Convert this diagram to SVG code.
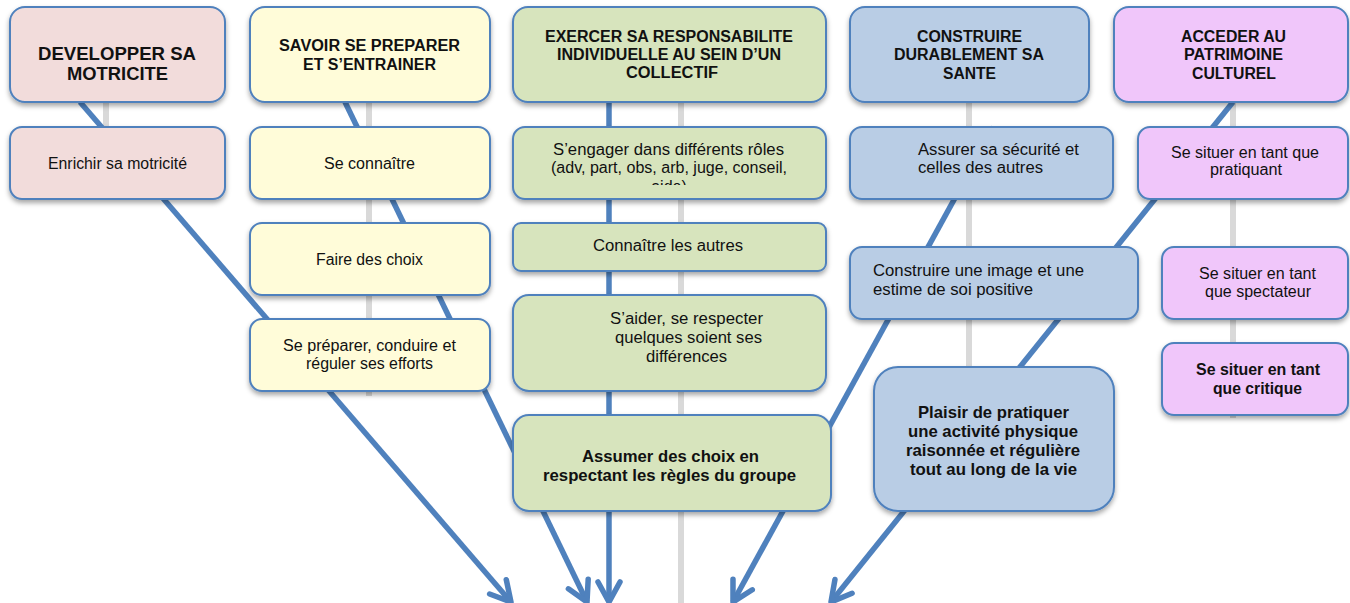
<svg xmlns="http://www.w3.org/2000/svg" width="1350" height="603" viewBox="0 0 1350 603">
<style>
  .grey{stroke:#d9d9d9;stroke-width:6;fill:none}
  .blue{stroke:#4f81bd;stroke-width:5.5;fill:none;marker-end:url(#arr)}
  .box{stroke:#4f81bd;stroke-width:2;filter:url(#sh)}
  .pink{fill:#f2dcdb}.yel{fill:#fffcd9}.grn{fill:#d7e4bd}.blu{fill:#b9cde5}.pur{fill:#f0c6fa}
  text{font-family:"Liberation Sans",Arial,sans-serif;fill:#111;text-anchor:middle}
  .h{font-weight:bold;font-size:16px}
  .hb{font-weight:bold;font-size:18.5px}
  .t{font-size:16px}
  .b{font-weight:bold;font-size:16.5px}
  .l{text-anchor:start}
</style>
<defs>
  <filter id="sh" x="-10%" y="-10%" width="120%" height="130%">
    <feDropShadow dx="0" dy="3" stdDeviation="2.5" flood-color="#000" flood-opacity="0.35"/>
  </filter>
  <marker id="arr" markerUnits="userSpaceOnUse" viewBox="-24 -14 28 28" markerWidth="28" markerHeight="28" refX="0" refY="0" orient="auto">
    <path d="M-20,-11 L0,0 L-20,11" fill="none" stroke="#4f81bd" stroke-width="5.5" stroke-linecap="round" stroke-linejoin="round"/>
  </marker>
  <clipPath id="clipEng"><rect x="513" y="127" width="313" height="58"/></clipPath>
</defs>
<rect width="1350" height="603" fill="#fff"/>
<g id="connectors">
  <line class="grey" x1="106" y1="102" x2="106" y2="160"/>
  <line class="grey" x1="369" y1="102" x2="369" y2="396"/>
  <line class="grey" x1="681" y1="102" x2="681" y2="603"/>
  <line class="grey" x1="969" y1="102" x2="969" y2="380"/>
  <line class="grey" x1="1233" y1="102" x2="1233" y2="418"/>
  <line class="blue" x1="80" y1="102" x2="511" y2="602"/>
  <line class="blue" x1="345" y1="102" x2="587" y2="602"/>
  <line class="blue" x1="609" y1="102" x2="609" y2="602"/>
  <line class="blue" x1="994" y1="127" x2="733" y2="602"/>
  <line class="blue" x1="1233" y1="102" x2="831" y2="602"/>
</g>
<g id="h-motricite">
  <rect class="box pink" x="10" y="7" width="215" height="95" rx="15"/>
  <text class="hb" x="117" y="60" textLength="158" lengthAdjust="spacingAndGlyphs">DEVELOPPER SA</text>
  <text class="hb" x="117.5" y="80" textLength="101" lengthAdjust="spacingAndGlyphs">MOTRICITE</text>
</g>
<g id="h-preparer">
  <rect class="box yel" x="250" y="7" width="240" height="95" rx="15"/>
  <text class="h" x="369.5" y="51" textLength="181" lengthAdjust="spacingAndGlyphs">SAVOIR SE PREPARER</text>
  <text class="h" x="369.5" y="70" textLength="133" lengthAdjust="spacingAndGlyphs">ET S’ENTRAINER</text>
</g>
<g id="h-responsabilite">
  <rect class="box grn" x="513" y="7" width="313" height="95" rx="15"/>
  <text class="h" x="669" y="42" textLength="248" lengthAdjust="spacingAndGlyphs">EXERCER SA RESPONSABILITE</text>
  <text class="h" x="669" y="60" textLength="224" lengthAdjust="spacingAndGlyphs">INDIVIDUELLE AU SEIN D’UN</text>
  <text class="h" x="672" y="78" textLength="92" lengthAdjust="spacingAndGlyphs">COLLECTIF</text>
</g>
<g id="h-sante">
  <rect class="box blu" x="850" y="7" width="239" height="95" rx="15"/>
  <text class="h" x="969.5" y="42" textLength="105" lengthAdjust="spacingAndGlyphs">CONSTRUIRE</text>
  <text class="h" x="969" y="60" textLength="150" lengthAdjust="spacingAndGlyphs">DURABLEMENT SA</text>
  <text class="h" x="969.5" y="79" textLength="53" lengthAdjust="spacingAndGlyphs">SANTE</text>
</g>
<g id="h-patrimoine">
  <rect class="box pur" x="1114" y="7" width="234" height="95" rx="15"/>
  <text class="h" x="1233.5" y="42" textLength="105" lengthAdjust="spacingAndGlyphs">ACCEDER AU</text>
  <text class="h" x="1233.5" y="60" textLength="99" lengthAdjust="spacingAndGlyphs">PATRIMOINE</text>
  <text class="h" x="1234" y="79" textLength="84" lengthAdjust="spacingAndGlyphs">CULTUREL</text>
</g>
<g id="n-enrichir">
  <rect class="box pink" x="10" y="127" width="215" height="72" rx="12"/>
  <text class="t" x="117.5" y="169" textLength="139" lengthAdjust="spacingAndGlyphs">Enrichir sa motricité</text>
</g>
<g id="n-connaitre">
  <rect class="box yel" x="250" y="127" width="240" height="72" rx="12"/>
  <text class="t" x="369.5" y="169" textLength="91" lengthAdjust="spacingAndGlyphs">Se connaître</text>
</g>
<g id="n-engager">
  <rect class="box grn" x="513" y="127" width="313" height="72" rx="12"/>
  <text class="t" x="668.5" y="155" textLength="231" lengthAdjust="spacingAndGlyphs">S’engager dans différents rôles</text>
  <text class="t" x="669" y="173" textLength="236" lengthAdjust="spacingAndGlyphs">(adv, part, obs, arb, juge, conseil,</text>
  <text class="t" x="669" y="192" clip-path="url(#clipEng)">aide)</text>
</g>
<g id="n-securite">
  <rect class="box blu" x="850" y="127" width="263" height="72" rx="12"/>
  <text class="t l" x="918" y="155" textLength="161" lengthAdjust="spacingAndGlyphs">Assurer sa sécurité et</text>
  <text class="t l" x="918" y="173" textLength="125" lengthAdjust="spacingAndGlyphs">celles des autres</text>
</g>
<g id="n-pratiquant">
  <rect class="box pur" x="1138" y="127" width="210" height="72" rx="12"/>
  <text class="t" x="1245" y="158" textLength="148" lengthAdjust="spacingAndGlyphs">Se situer en tant que</text>
  <text class="t" x="1246" y="175" textLength="72" lengthAdjust="spacingAndGlyphs">pratiquant</text>
</g>
<g id="n-choix">
  <rect class="box yel" x="250" y="223" width="240" height="72" rx="12"/>
  <text class="t" x="369.5" y="265" textLength="107" lengthAdjust="spacingAndGlyphs">Faire des choix</text>
</g>
<g id="n-autres">
  <rect class="box grn" x="513" y="223" width="313" height="48" rx="8"/>
  <text class="t" x="668" y="251" textLength="150" lengthAdjust="spacingAndGlyphs">Connaître les autres</text>
</g>
<g id="n-image">
  <rect class="box blu" x="850" y="247" width="288" height="72" rx="12"/>
  <text class="t l" x="873" y="276" textLength="211" lengthAdjust="spacingAndGlyphs">Construire une image et une</text>
  <text class="t l" x="873" y="295" textLength="160" lengthAdjust="spacingAndGlyphs">estime de soi positive</text>
</g>
<g id="n-spectateur">
  <rect class="box pur" x="1162" y="247" width="186" height="72" rx="12"/>
  <text class="t" x="1257.5" y="279" textLength="117" lengthAdjust="spacingAndGlyphs">Se situer en tant</text>
  <text class="t" x="1258" y="297" textLength="106" lengthAdjust="spacingAndGlyphs">que spectateur</text>
</g>
<g id="n-efforts">
  <rect class="box yel" x="250" y="319" width="240" height="72" rx="12"/>
  <text class="t" x="369.5" y="351" textLength="173" lengthAdjust="spacingAndGlyphs">Se préparer, conduire et</text>
  <text class="t" x="369.5" y="369" textLength="127" lengthAdjust="spacingAndGlyphs">réguler ses efforts</text>
</g>
<g id="n-aider">
  <rect class="box grn" x="513" y="295" width="313" height="96" rx="16"/>
  <text class="t" x="686.5" y="324" textLength="153" lengthAdjust="spacingAndGlyphs">S’aider, se respecter</text>
  <text class="t" x="688.5" y="343" textLength="147" lengthAdjust="spacingAndGlyphs">quelques soient ses</text>
  <text class="t" x="686.5" y="362" textLength="81" lengthAdjust="spacingAndGlyphs">différences</text>
</g>
<g id="n-critique">
  <rect class="box pur" x="1162" y="343" width="186" height="72" rx="12"/>
  <text class="b" x="1258" y="375" textLength="124" lengthAdjust="spacingAndGlyphs">Se situer en tant</text>
  <text class="b" x="1257.5" y="394" textLength="89" lengthAdjust="spacingAndGlyphs">que critique</text>
</g>
<g id="n-assumer">
  <rect class="box grn" x="513" y="415" width="318" height="96" rx="16"/>
  <text class="b" x="670.5" y="462" textLength="177" lengthAdjust="spacingAndGlyphs">Assumer des choix en</text>
  <text class="b" x="669.5" y="481" textLength="253" lengthAdjust="spacingAndGlyphs">respectant les règles du groupe</text>
</g>
<g id="n-plaisir">
  <rect class="box blu" x="874" y="367" width="240" height="144" rx="24"/>
  <text class="b" x="993.5" y="418" textLength="151" lengthAdjust="spacingAndGlyphs">Plaisir de pratiquer</text>
  <text class="b" x="993" y="437" textLength="170" lengthAdjust="spacingAndGlyphs">une activité physique</text>
  <text class="b" x="993" y="456" textLength="174" lengthAdjust="spacingAndGlyphs">raisonnée et régulière</text>
  <text class="b" x="993.5" y="475" textLength="167" lengthAdjust="spacingAndGlyphs">tout au long de la vie</text>
</g>
</svg>
